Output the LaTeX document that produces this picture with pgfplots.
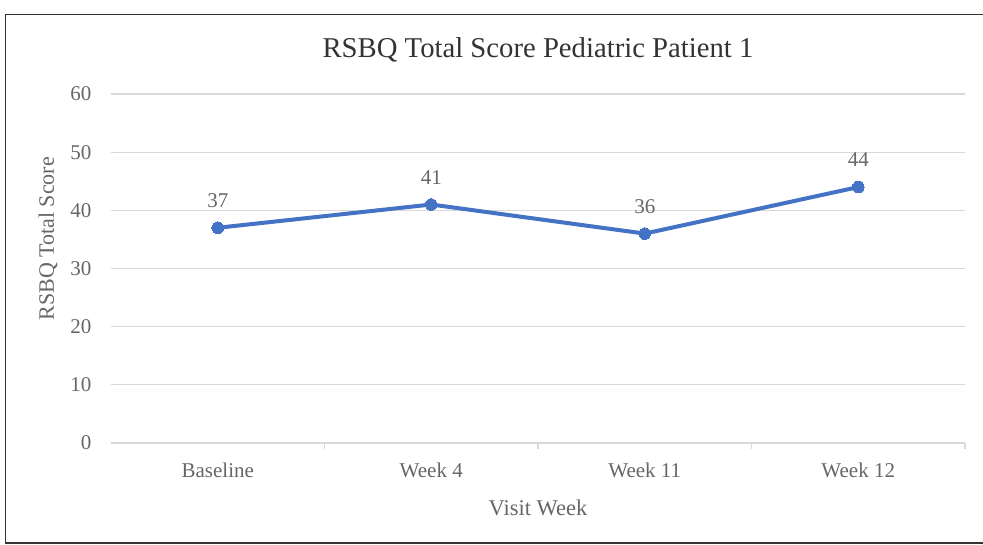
\documentclass[border=0pt]{standalone}
\usepackage{pgfplots}
\pgfplotsset{compat=1.18}
\usepackage{fontspec}
\setmainfont{Liberation Serif}
\definecolor{txt}{HTML}{666666}
\definecolor{gridc}{HTML}{D9D9D9}
\definecolor{lineblue}{HTML}{4472C4}
\begin{document}
\begin{tikzpicture}
\path[use as bounding box] (0pt,0pt) rectangle (983pt,545pt);
\draw[black!80, line width=1.2pt] (5.5pt,2pt) rectangle (990pt,530.5pt);
\begin{axis}[
  at={(111pt,102pt)}, anchor=south west,
  scale only axis, width=854pt, height=349pt,
  xmin=-0.5, xmax=3.5, ymin=0, ymax=60,
  xtick={0,1,2,3},
  xticklabels={Baseline,Week 4,Week 11,Week 12},
  minor xtick={0.5,1.5,2.5,3.5},
  ytick={0,10,...,60},
  ymajorgrids, grid style={gridc, line width=1.3pt},
  axis line style={draw=none},
  major tick length=0pt,
  minor tick length=6pt,
  tick align=outside,
  xtick pos=left, ytick pos=left,
  minor tick style={gridc, line width=1.2pt},
  tick label style={font=\fontsize{21}{24}\selectfont, text=txt},
  /pgf/number format/assume math mode=true,
  xticklabel style={yshift=-16pt},
  yticklabel style={xshift=-16pt},
  title={RSBQ Total Score Pediatric Patient 1},
  title style={font=\fontsize{28.7}{32}\selectfont, text=black!80, at={(axis description cs:0.5,1)}, anchor=center, yshift=38pt},
  xlabel={Visit Week},
  xlabel style={font=\fontsize{22.5}{26}\selectfont, text=txt, at={(axis description cs:0.5,0)}, anchor=center, yshift=-65pt},
  ylabel={RSBQ Total Score},
  ylabel style={font=\fontsize{22}{26}\selectfont, text=txt, at={(axis description cs:-0.0738,0.585)}, anchor=center},
  nodes near coords,
  every node near coord/.append style={font=\fontsize{21}{24}\selectfont, text=txt, anchor=south, yshift=17pt},
  clip=false,
]
\addplot[lineblue, line width=4pt, mark=*, mark size=5.8pt, mark options={fill=lineblue, draw=lineblue, line width=0pt}]
  coordinates {(0,37) (1,41) (2,36) (3,44)};
\end{axis}
\end{tikzpicture}
\end{document}
